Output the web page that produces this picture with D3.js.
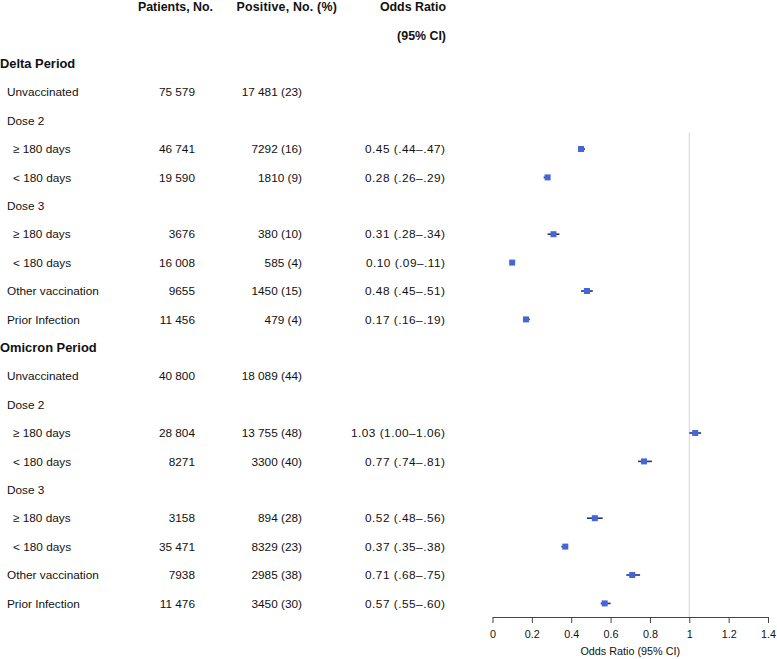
<!DOCTYPE html>
<html><head><meta charset="utf-8">
<script src="https://cdn.jsdelivr.net/npm/d3@7"></script>
<style>body{margin:0;background:#fff}svg{display:block}text{font-family:"Liberation Sans",Arial,sans-serif;fill:#111}</style>
</head><body><svg id="c" width="777" height="659"></svg>
<script>
// Row labels (level: 0 = bold period heading, 1 = group, 2 = indented sub-row)
const labels = ["Delta Period","Unvaccinated","Dose 2","≥ 180 days","< 180 days","Dose 3","≥ 180 days","< 180 days","Other vaccination","Prior Infection",
                "Omicron Period","Unvaccinated","Dose 2","≥ 180 days","< 180 days","Dose 3","≥ 180 days","< 180 days","Other vaccination","Prior Infection"];
const levels = [0,1,1,2,2,1,2,2,1,1, 0,1,1,2,2,1,2,2,1,1];
const patients = [null,75579,null,46741,19590,null,3676,16008,9655,11456, null,40800,null,28804,8271,null,3158,35471,7938,11476];
const positive = [null,17481,null,7292,1810,null,380,585,1450,479, null,18089,null,13755,3300,null,894,8329,2985,3450];
const positivePct = [null,23,null,16,9,null,10,4,15,4, null,44,null,48,40,null,28,23,38,30];
const oddsRatio = [null,null,null,0.45,0.28,null,0.31,0.10,0.48,0.17, null,null,null,1.03,0.77,null,0.52,0.37,0.71,0.57];
const ciLow    = [null,null,null,0.44,0.26,null,0.28,0.09,0.45,0.16, null,null,null,1.00,0.74,null,0.48,0.35,0.68,0.55];
const ciHigh   = [null,null,null,0.47,0.29,null,0.34,0.11,0.51,0.19, null,null,null,1.06,0.81,null,0.56,0.38,0.75,0.60];
const xTicks = [0,0.2,0.4,0.6,0.8,1,1.2,1.4];
const xTickLabels = ["0","0.2","0.4","0.6","0.8","1","1.2","1.4"];

const svg = d3.select("#c");
const rowY = d3.scaleLinear().domain([0,1]).range([7, 35.4]); // row index -> center y
const x = d3.scaleLinear().domain([0,1.4]).range([492.5,768]);

const fmtN = n => n >= 10000 ? d3.format(",")(n).replace(/,/g," ") : String(n);
const fmtC = v => v < 1 ? v.toFixed(2).replace(/^0/,"") : v.toFixed(2);

// headers
const hdr = svg.append("g").attr("font-weight","bold").style("font-size","12.4px");
hdr.append("text").attr("x",213).attr("y",rowY(0)).attr("dy","0.35em").attr("text-anchor","end").text("Patients, No.");
hdr.append("text").attr("x",337).attr("y",rowY(0)).attr("dy","0.35em").attr("text-anchor","end").style("letter-spacing","0.2px").text("Positive, No. (%)");
hdr.append("text").attr("x",446).attr("y",rowY(0)).attr("dy","0.35em").attr("text-anchor","end").text("Odds Ratio");
hdr.append("text").attr("x",446).attr("y",rowY(1)).attr("dy","0.35em").attr("text-anchor","end").text("(95% CI)");

const rows = labels.map((l,i)=>({l, lev:levels[i], p:patients[i], pos:positive[i], pct:positivePct[i], or:oddsRatio[i], lo:ciLow[i], hi:ciHigh[i], r:i+2}));

const g = svg.append("g");
g.selectAll("text.lab").data(rows).join("text").attr("class","lab")
  .attr("x",d=>d.lev===0?0:(d.lev===1?7:13))
  .attr("y",d=>rowY(d.r)).attr("dy","0.35em")
  .attr("font-weight",d=>d.lev===0?"bold":"normal")
  .style("font-size",d=>d.lev===0?"12.9px":"11.8px")
  .text(d=>d.l);

const num = rows.filter(d=>d.p!==null);
g.selectAll("text.pat").data(num).join("text").attr("class","pat")
  .attr("x",195).attr("y",d=>rowY(d.r)).attr("dy","0.35em").attr("text-anchor","end").style("font-size","11.8px")
  .text(d=>fmtN(d.p));
g.selectAll("text.pos").data(num).join("text").attr("class","pos")
  .attr("x",302).attr("y",d=>rowY(d.r)).attr("dy","0.35em").attr("text-anchor","end").style("font-size","11.8px")
  .text(d=>fmtN(d.pos)+" ("+d.pct+")");

const ors = rows.filter(d=>d.or!==null);
g.selectAll("text.or").data(ors).join("text").attr("class","or")
  .attr("x",445.5).attr("y",d=>rowY(d.r)).attr("dy","0.35em").attr("text-anchor","end").style("font-size","11.8px")
  .style("letter-spacing","0.5px")
  .text(d=>d.or.toFixed(2)+" ("+fmtC(d.lo)+"–"+fmtC(d.hi)+")");

// reference line
const axisY = 617;
svg.append("line").attr("x1",x(1)).attr("x2",x(1)).attr("y1",133).attr("y2",axisY).attr("stroke","#d4d4d4").attr("stroke-width",1);

// CI and markers
const plot = svg.append("g");
plot.selectAll("line.ci").data(ors).join("line").attr("class","ci")
  .attr("x1",d=>x(d.lo)).attr("x2",d=>x(d.hi)).attr("y1",d=>rowY(d.r)).attr("y2",d=>rowY(d.r))
  .attr("stroke","#22307a").attr("stroke-width",1.6);
const s = 6;
plot.selectAll("rect.m").data(ors).join("rect").attr("class","m")
  .attr("x",d=>x(d.or)-s/2).attr("y",d=>rowY(d.r)-s/2).attr("width",s).attr("height",s)
  .attr("fill","#4466d6");

// axis
const ax = svg.append("g").attr("transform",`translate(0,${axisY})`)
  .call(d3.axisBottom(x).tickValues(xTicks).tickFormat((d,i)=>xTickLabels[i]).tickSize(6).tickPadding(7).tickSizeOuter(0));
ax.select(".domain").attr("stroke","#444");
ax.selectAll(".tick line").attr("stroke","#444");
ax.selectAll("text").style("font-size","10.8px").attr("font-family","Liberation Sans, Arial, sans-serif").attr("fill","#111");
svg.append("text").attr("x",(x(0)+x(1.4))/2).attr("y",651).attr("dy","0.35em").attr("text-anchor","middle").style("font-size","10.8px").text("Odds Ratio (95% CI)");
</script></body></html>
